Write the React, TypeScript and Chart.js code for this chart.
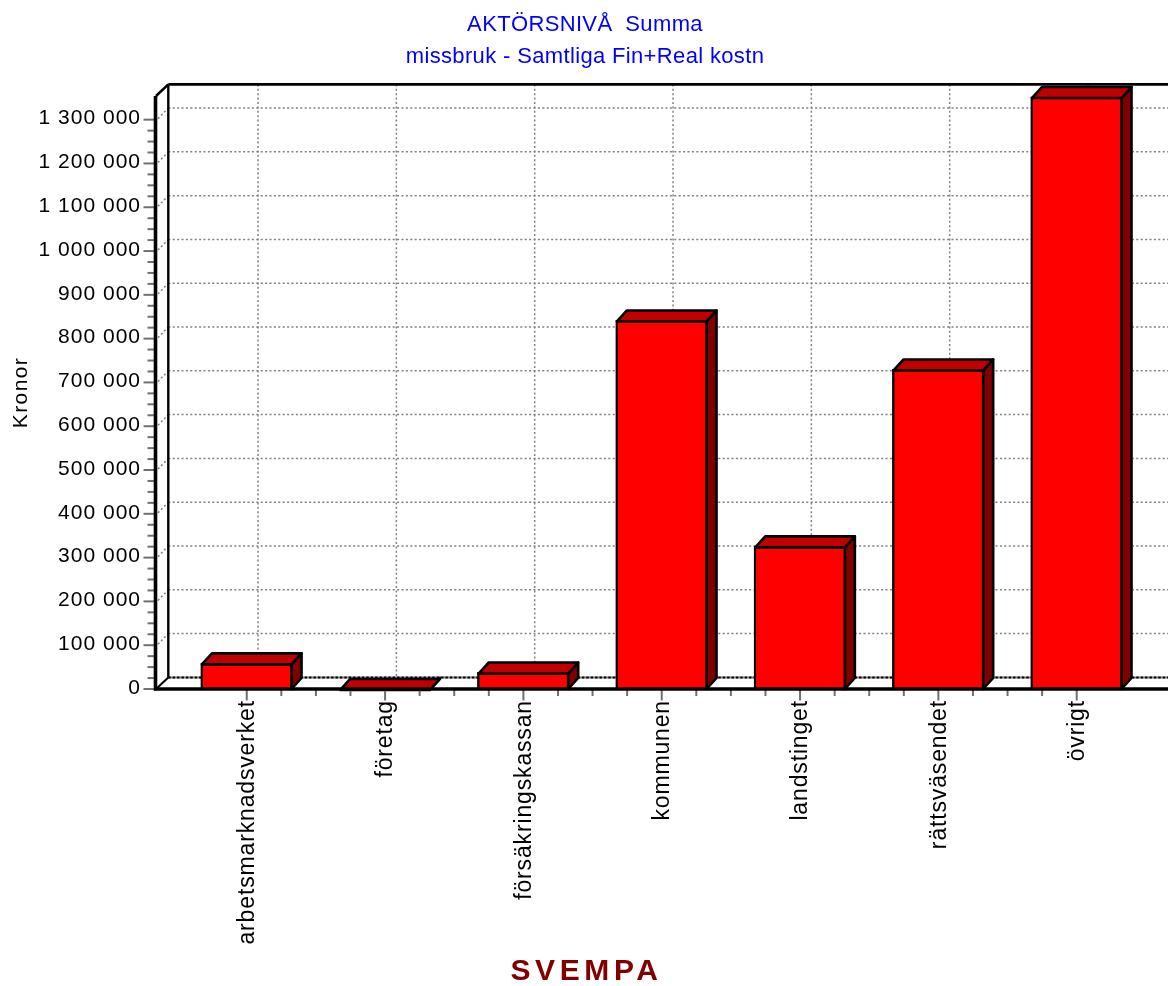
import React, { useEffect, useRef } from "react";
import { Chart, registerables } from "chart.js";

Chart.register(...registerables);

const categories = ["arbetsmarknadsverket", "företag", "försäkringskassan", "kommunen", "landstinget", "rättsväsendet", "övrigt"];
const values = [59000, 500, 38000, 842000, 326000, 730000, 1352000];
const titleLines = ["AKTÖRSNIVÅ  Summa", "missbruk - Samtliga Fin+Real kostn"];
const xTitle = "SVEMPA";
const yTitle = "Kronor";

const FONT = "'Liberation Sans', Arial, sans-serif";
const WALL_DX = 12.3;
const WALL_DY = 11.6;
const BAR_DX = 10;
const BAR_DY = 11;

function spaced(obj: any, method: string, px: string, dx = 0, dy = 0) {
  const orig = obj[method];
  obj[method] = function (...args: any[]) {
    const ctx = this.ctx;
    ctx.save();
    ctx.translate(dx, dy);
    ctx.letterSpacing = px;
    orig.apply(this, args);
    ctx.letterSpacing = "0px";
    ctx.restore();
  };
}

function line(ctx: any, pts: number[][], color: string, width: number, dash: number[] = []) {
  ctx.beginPath();
  ctx.setLineDash(dash);
  ctx.strokeStyle = color;
  ctx.lineWidth = width;
  pts.forEach((p, i) => (i ? ctx.lineTo(p[0], p[1]) : ctx.moveTo(p[0], p[1])));
  ctx.stroke();
  ctx.setLineDash([]);
}

function face(ctx: any, pts: number[][], fill: string) {
  ctx.beginPath();
  pts.forEach((p, i) => (i ? ctx.lineTo(p[0], p[1]) : ctx.moveTo(p[0], p[1])));
  ctx.closePath();
  ctx.fillStyle = fill;
  ctx.fill();
  ctx.lineJoin = "round";
  ctx.strokeStyle = "#000";
  ctx.lineWidth = 2.6;
  ctx.stroke();
}

const bar3d = {
  id: "bar3d",
  beforeDraw(chart: any) {
    if (chart.$spaced) return;
    chart.$spaced = true;
    for (const box of chart.boxes) {
      if (box.options?.text === xTitle) spaced(box, "draw", "4.6px", 2.5, 1);
      else if (Array.isArray(box.options?.text)) spaced(box, "draw", "0.35px", 1);
    }
    spaced(chart.scales.x, "drawLabels", "0.85px", 1);
    spaced(chart.scales.y, "drawLabels", "1px");
    spaced(chart.scales.y, "drawTitle", "1.4px");
  },
  beforeDatasetsDraw(chart: any) {
    const { ctx, chartArea: a, scales } = chart;
    const { x, y } = scales;
    const left = a.left + WALL_DX;
    const top = a.top - WALL_DY;
    const floor = a.bottom - WALL_DY;
    ctx.save();
    const dots = [2, 2.4];
    for (const t of y.ticks) {
      if (t.value % 100000 !== 0 || t.value === 0) continue;
      const py = y.getPixelForValue(t.value);
      line(ctx, [[a.left + 2, py - 1], [left, py - WALL_DY]], "#808080", 1.5, dots);
      line(ctx, [[left, py - WALL_DY], [a.right, py - WALL_DY]], "#808080", 1.5, dots);
    }
    for (const t of x.ticks) {
      if (!Number.isInteger(t.value)) continue;
      const px = x.getPixelForValue(t.value) + WALL_DX - 1;
      line(ctx, [[px, top], [px, floor]], "#808080", 1.5, dots);
    }
    line(ctx, [[left, floor], [a.right, floor]], "#808080", 2);
    line(ctx, [[left, floor], [a.right, floor]], "#000", 2, [2.4, 2]);
    line(ctx, [[left, top], [left, floor]], "#000", 2.4);
    line(ctx, [[left, top], [a.right, top]], "#000", 2.8);
    line(ctx, [[a.left, a.top], [left, top]], "#000", 2.6);
    line(ctx, [[a.left, a.bottom], [left, floor]], "#000", 2);
    ctx.restore();
  },
  afterDatasetsDraw(chart: any) {
    const { ctx, chartArea: a, scales } = chart;
    const { x, y } = scales;
    ctx.save();
    for (const bar of chart.getDatasetMeta(0).data) {
      const x1 = bar.x - bar.width / 2 + 1.2;
      const x2 = bar.x + bar.width / 2 - 1.2;
      const yt = bar.y + 1.2;
      const yb = bar.base;
      face(ctx, [[x2, yt], [x2 + BAR_DX, yt - BAR_DY], [x2 + BAR_DX, yb - BAR_DY], [x2, yb]], "#800000");
      face(ctx, [[x1, yt], [x1 + BAR_DX, yt - BAR_DY], [x2 + BAR_DX, yt - BAR_DY], [x2, yt]], "#c00000");
    }
    for (const t of y.ticks) {
      const py = y.getPixelForValue(t.value);
      line(ctx, [[a.left - (t.value % 100000 === 0 ? 12.5 : 8.5), py], [a.left, py]], "#707070", 2);
    }
    for (const t of x.ticks) {
      const px = x.getPixelForValue(t.value);
      line(ctx, [[px, a.bottom], [px, a.bottom + (Number.isInteger(t.value) ? 11.5 : 7)]], "#707070", 2);
    }
    line(ctx, [[a.left - 0.5, a.top], [a.left - 0.5, a.bottom + 1.5]], "#000", 3.6);
    line(ctx, [[a.left - 2, a.bottom], [a.right, a.bottom]], "#000", 3.6);
    ctx.restore();
  },
};

export default function App() {
  const ref = useRef<HTMLCanvasElement | null>(null);
  useEffect(() => {
    const chart = new Chart(ref.current as HTMLCanvasElement, {
      type: "bar",
      data: {
        datasets: [
          {
            data: values.map((v, i) => ({ x: i, y: v })),
            backgroundColor: "#ff0000",
            borderColor: "#000000",
            borderWidth: 2.4,
            barThickness: 92,
          },
        ],
      },
      plugins: [bar3d],
      options: {
        responsive: false,
        animation: false,
        layout: { padding: 0 },
        plugins: {
          legend: { display: false },
          tooltip: { enabled: false },
          title: {
            display: true,
            text: titleLines,
            color: "#0000ff",
            position: "top",
            font: { family: FONT, size: 22, weight: "normal", lineHeight: 1.4545 },
            padding: { top: 9, bottom: 23 },
          },
          subtitle: {
            display: true,
            text: xTitle,
            color: "#800000",
            position: "bottom",
            font: { family: FONT, size: 30, weight: "bold", lineHeight: 1 },
            padding: { top: 0, bottom: 0 },
          },
        },
        scales: {
          x: {
            type: "linear",
            offset: false,
            min: -0.656,
            max: 6.66,
            grid: { display: false, drawTicks: false, offset: false },
            border: { display: false },
            afterBuildTicks: (s: any) => {
              const ticks = [];
              for (let i = 0; i < categories.length; i++) {
                ticks.push({ value: i });
                if (i < categories.length - 1) {
                  ticks.push({ value: i + 0.25 }, { value: i + 0.5 }, { value: i + 0.75 });
                }
              }
              s.ticks = ticks;
            },
            afterFit: (s: any) => {
              s.height = 267;
            },
            ticks: {
              autoSkip: false,
              minRotation: 90,
              maxRotation: 90,
              padding: 11,
              color: "#000",
              font: { family: FONT, size: 23 },
              callback: (v: any) => (Number.isInteger(v) ? categories[v] : ""),
            },
          },
          y: {
            type: "linear",
            min: 0,
            max: 1354000,
            grid: { display: false, drawTicks: false },
            border: { display: false },
            afterBuildTicks: (s: any) => {
              const ticks = [];
              for (let v = 0; v <= 1300000; v += 25000) ticks.push({ value: v });
              s.ticks = ticks;
            },
            afterFit: (s: any) => {
              s.width = 156;
            },
            title: {
              display: true,
              text: yTitle,
              color: "#000",
              font: { family: FONT, size: 21 },
              padding: { top: 9, bottom: 0 },
            },
            ticks: {
              stepSize: 25000,
              autoSkip: false,
              padding: 15,
              labelOffset: -1,
              color: "#000",
              font: { family: FONT, size: 21 },
              callback: (v: any) =>
                v % 100000 === 0 ? String(v).replace(/\B(?=(\d{3})+$)/g, " ") : "",
            },
          },
        },
      } as any,
    });
    return () => chart.destroy();
  }, []);
  return (
    <canvas
      ref={ref}
      width={1168}
      height={986}
      style={{ position: "absolute", left: 0, top: 0, display: "block" }}
    />
  );
}
